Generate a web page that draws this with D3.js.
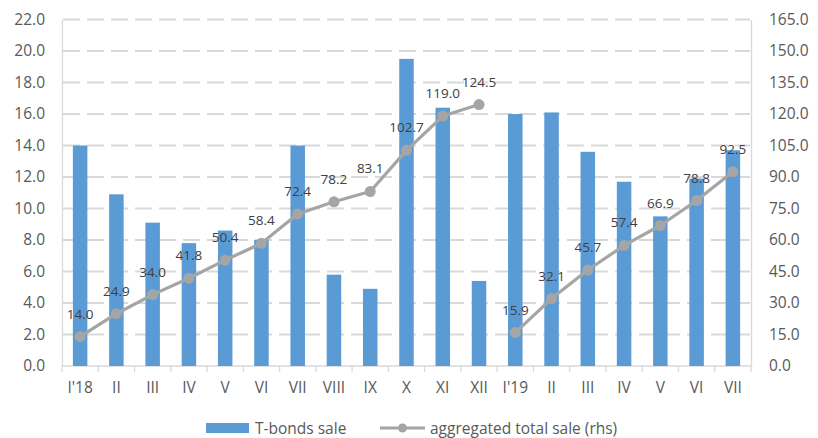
<!DOCTYPE html>
<html>
<head>
<meta charset="utf-8">
<script src="https://cdn.jsdelivr.net/npm/d3@7"></script>
<style>
  html, body { margin: 0; padding: 0; background: #fff; }
  svg { display: block; font-family: "Open Sans", sans-serif; }
</style>
</head>
<body>
<svg id="chart" width="818" height="438"></svg>
<script>
// Monthly categories, Jan 2018 – Jul 2019
const categories = ["I'18","II","III","IV","V","VI","VII","VIII","IX","X","XI","XII",
                    "I'19","II","III","IV","V","VI","VII"];

// Monthly T-bonds sale (left axis)
const bondsSale = [14.0, 10.9, 9.1, 7.8, 8.6, 8.0, 14.0, 5.8, 4.9, 19.5, 16.4, 5.4,
                   16.0, 16.1, 13.6, 11.7, 9.5, 11.9, 13.7];

// Year-to-date aggregated total sale (right axis), one run per year
const aggregated2018 = [14.0, 24.9, 34.0, 41.8, 50.4, 58.4, 72.4, 78.2, 83.1, 102.7, 119.0, 124.5];
const aggregated2019 = [15.9, 32.1, 45.7, 57.4, 66.9, 78.8, 92.5];

const leftTicks = [0, 2, 4, 6, 8, 10, 12, 14, 16, 18, 20, 22];
const rightTicks = [0, 15, 30, 45, 60, 75, 90, 105, 120, 135, 150, 165];

const barColor = "#5b9bd5";
const lineColor = "#a5a5a5";
const axisText = "#595959";
const gridColor = "#d9d9d9";

const svg = d3.select("#chart");
const plot = { left: 62, right: 751, top: 19.5, bottom: 366 };

const x = d3.scaleBand()
  .domain(d3.range(categories.length))
  .range([plot.left, plot.right])
  .paddingInner(0.6)
  .paddingOuter(0.3);
// band edges for ticks between categories
const step = x.step();
const xCenter = i => x(i) + x.bandwidth() / 2;

const yL = d3.scaleLinear().domain([0, 22]).range([plot.bottom, plot.top]);
const yR = d3.scaleLinear().domain([0, 165]).range([plot.bottom, plot.top]);

// Dashed horizontal gridlines
svg.append("g")
  .selectAll("line")
  .data(leftTicks.filter(d => d > 0))
  .join("line")
  .attr("x1", plot.left + 1)
  .attr("x2", plot.right - 1)
  .attr("y1", d => yL(d))
  .attr("y2", d => yL(d))
  .attr("stroke", gridColor)
  .attr("stroke-width", 2)
  .attr("stroke-dasharray", "17,7");

// Left axis
const axL = svg.append("g")
  .attr("transform", `translate(${plot.left},0)`)
  .call(d3.axisLeft(yL).tickValues(leftTicks).tickFormat(d3.format(".1f")).tickSize(0).tickPadding(17));
axL.select(".domain").attr("stroke", gridColor).attr("stroke-width", 1.3);
axL.selectAll("text").attr("fill", axisText).style("font-size", "15.5px").style("font-family", "Open Sans");

// Right axis
const axR = svg.append("g")
  .attr("transform", `translate(${plot.right},0)`)
  .call(d3.axisRight(yR).tickValues(rightTicks).tickFormat(d3.format(".1f")).tickSize(0).tickPadding(18));
axR.select(".domain").attr("stroke", gridColor).attr("stroke-width", 1.3);
axR.selectAll("text").attr("fill", axisText).style("font-size", "15.5px").style("font-family", "Open Sans");

// Bottom category axis
const bandAxis = d3.scalePoint()
  .domain(d3.range(categories.length + 1))
  .range([plot.left, plot.right]);
const axB = svg.append("g").attr("transform", `translate(0,${plot.bottom})`);
axB.append("line")
  .attr("x1", plot.left).attr("x2", plot.right)
  .attr("stroke", gridColor).attr("stroke-width", 1.3);
axB.selectAll("line.tick")
  .data(d3.range(categories.length + 1))
  .join("line")
  .attr("class", "tick")
  .attr("x1", d => bandAxis(d)).attr("x2", d => bandAxis(d))
  .attr("y1", 0).attr("y2", 6)
  .attr("stroke", gridColor).attr("stroke-width", 1.3);
axB.selectAll("text")
  .data(categories)
  .join("text")
  .attr("x", (d, i) => xCenter(i))
  .attr("y", 27)
  .attr("text-anchor", "middle")
  .attr("fill", axisText)
  .style("font-size", "15.5px")
  .text(d => d);

// Bars
svg.append("g")
  .selectAll("rect")
  .data(bondsSale)
  .join("rect")
  .attr("x", (d, i) => x(i))
  .attr("width", x.bandwidth())
  .attr("y", d => yL(d))
  .attr("height", d => yL(0) - yL(d))
  .attr("fill", barColor);

// Aggregated line, one segment per year
const runs = [
  aggregated2018.map((v, i) => ({ i, v })),
  aggregated2019.map((v, i) => ({ i: i + aggregated2018.length, v }))
];
const line = d3.line().x(d => xCenter(d.i)).y(d => yR(d.v));
const gLine = svg.append("g");
runs.forEach(run => {
  gLine.append("path")
    .datum(run)
    .attr("d", line)
    .attr("fill", "none")
    .attr("stroke", lineColor)
    .attr("stroke-width", 3.2)
    .attr("stroke-linejoin", "round");
});
const allPoints = runs.flat();
gLine.selectAll("circle")
  .data(allPoints)
  .join("circle")
  .attr("cx", d => xCenter(d.i))
  .attr("cy", d => yR(d.v))
  .attr("r", 5.5)
  .attr("fill", lineColor);

// Data labels above markers
svg.append("g")
  .selectAll("text")
  .data(allPoints)
  .join("text")
  .attr("x", d => xCenter(d.i))
  .attr("y", d => yR(d.v) - 18)
  .attr("text-anchor", "middle")
  .attr("fill", "#404040")
  .style("font-size", "13.5px")
  .text(d => d3.format(".1f")(d.v));

// Legend
const lg = svg.append("g");
lg.append("rect")
  .attr("x", 206).attr("y", 423).attr("width", 43).attr("height", 10)
  .attr("fill", barColor);
lg.append("text")
  .attr("x", 255).attr("y", 433.5)
  .attr("fill", axisText).style("font-size", "15.5px")
  .text("T-bonds sale");
lg.append("line")
  .attr("x1", 380).attr("x2", 425).attr("y1", 428).attr("y2", 428)
  .attr("stroke", lineColor).attr("stroke-width", 3);
lg.append("circle")
  .attr("cx", 402.5).attr("cy", 428).attr("r", 4.5)
  .attr("fill", lineColor);
lg.append("text")
  .attr("x", 430).attr("y", 433.5)
  .attr("fill", axisText).style("font-size", "15.5px")
  .text("aggregated total sale (rhs)");
</script>
</body>
</html>
